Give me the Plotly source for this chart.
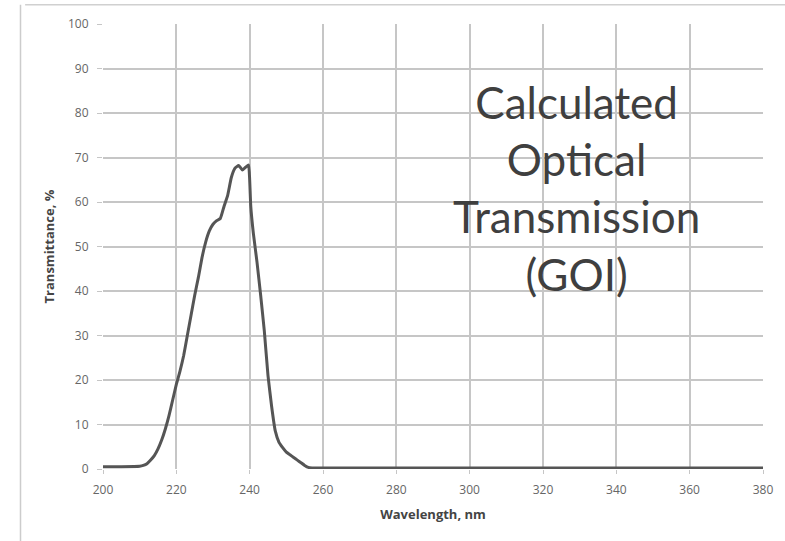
import plotly.graph_objects as go

# Wavelength (nm) and calculated transmittance (%)
wavelength = [200, 205, 210, 211, 212, 213, 214, 215, 216, 217, 218, 219, 220,
              221, 222, 223, 224, 225, 226, 227, 228, 229, 230, 231, 232, 233,
              234, 235, 236, 237, 238, 239, 239.7, 240, 240.3, 241, 242, 243,
              244, 245, 246, 247, 248, 249, 250, 251, 252, 253, 254, 255, 256,
              257, 258, 260, 280, 300, 320, 340, 360, 380]
transmittance = [0.5, 0.5, 0.6, 0.8, 1.2, 2.0, 3.0, 4.5, 6.5, 9.0, 12.0, 15.5, 19.0,
                 22.0, 25.5, 30.0, 34.5, 39.0, 43.0, 47.5, 51.0, 53.5, 55.0, 55.8, 56.3, 59.0,
                 61.5, 65.5, 67.6, 68.2, 67.2, 67.9, 68.3, 65.0, 59.0, 53.0, 46.5, 39.0,
                 31.0, 21.0, 14.0, 8.5, 6.0, 4.8, 3.8, 3.2, 2.6, 2.0, 1.4, 0.8, 0.35,
                 0.25, 0.2, 0.2, 0.2, 0.2, 0.2, 0.2, 0.2, 0.2]

x_ticks = list(range(200, 381, 20))
y_ticks = list(range(0, 101, 10))
caption_lines = ["Calculated", "Optical", "Transmission", "(GOI)"]

grid = "#c6c6c6"
tick_font = dict(family="Open Sans, Arial, sans-serif", size=12, color="#666666")
title_font = dict(family="Open Sans, Arial, sans-serif", size=13, color="#444444")

fig = go.Figure()
fig.add_trace(go.Scatter(
    x=wavelength, y=transmittance, mode="lines",
    line=dict(color="#555555", width=3, shape="spline", smoothing=0.4),
    hoverinfo="skip", showlegend=False,
))

fig.update_xaxes(
    range=[200, 380], tickvals=x_ticks, showgrid=True, gridcolor=grid, gridwidth=1.6,
    zeroline=False, showline=False, ticks="outside", ticklen=4, tickcolor=grid,
    tickfont=tick_font, ticklabelstandoff=6,
    title=dict(text="<b>Wavelength, nm</b>", font=title_font, standoff=12),
)
fig.update_yaxes(
    range=[0, 100], tickvals=y_ticks, showgrid=True, gridcolor=grid, gridwidth=1.6,
    zeroline=False, showline=False, ticks="outside", ticklen=5, tickcolor=grid,
    tickfont=tick_font, ticklabelstandoff=6,
    title=dict(text="<b>Transmittance, %</b>", font=title_font, standoff=10),
)

# Caption block
fig.add_annotation(
    x=0.718, xref="paper", y=0.631, yref="paper",
    text="<br>".join(caption_lines), showarrow=False,
    xanchor="center", yanchor="middle", align="center",
    font=dict(family="Lato, Open Sans, sans-serif", size=44, color="#3f3f3f"),
)

# Outer frame lines along the top and left edge of the page
fig.add_shape(type="line", xref="paper", yref="paper", x0=-0.118, x1=1.04, y0=1.043, y1=1.043,
              line=dict(color="#d0d0d0", width=1.5))
fig.add_shape(type="line", xref="paper", yref="paper", x0=-0.125, x1=-0.125, y0=1.043, y1=-0.17,
              line=dict(color="#cccccc", width=1.5))

fig.update_layout(
    width=785, height=541,
    margin=dict(l=103, r=22, t=24, b=72),
    paper_bgcolor="white", plot_bgcolor="white",
)

fig.write_html("out.html")
